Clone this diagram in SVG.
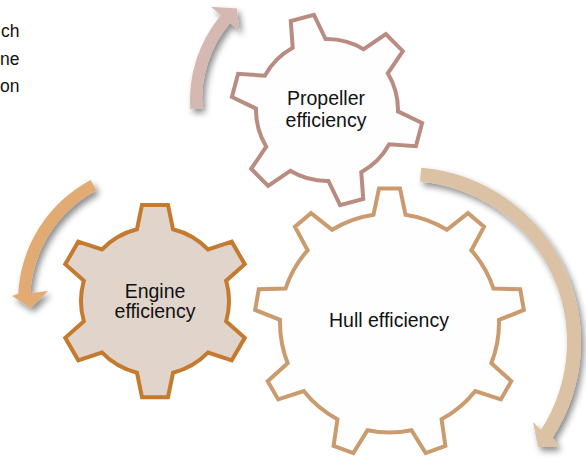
<svg xmlns="http://www.w3.org/2000/svg" width="586" height="463" viewBox="0 0 586 463">
<defs>
<filter id="shadow" x="-30%" y="-30%" width="160%" height="160%">
<feDropShadow dx="3" dy="4" stdDeviation="3" flood-color="#000" flood-opacity="0.45"/>
</filter>
</defs>
<style>
.lbl{font-family:"Liberation Sans",Arial,sans-serif;font-size:19.5px;fill:#111;text-anchor:middle}
.frag{font-family:"Liberation Sans",Arial,sans-serif;font-size:17.5px;fill:#111;text-anchor:end}
.gear{stroke-width:4;stroke-linejoin:miter;stroke-miterlimit:4}
.arrow{filter:url(#shadow);stroke:none}
</style>
<rect width="586" height="463" fill="#ffffff"/>
<g id="intro-text">
<text class="frag" x="19.5" y="37">ch</text>
<text class="frag" x="19.5" y="64.5">ne</text>
<text class="frag" x="19.5" y="92">on</text>
</g>
<g id="connectors">
<path class="arrow" fill="#D4B8B1" d="M190.3,109.2 A132,132 0 0 1 220.9,15.2 L210.9,6.8 L236.8,8.6 L239.3,30.6 L230.1,22.9 A120,120 0 0 0 202.3,108.4 Z"/>
<path class="arrow" fill="#E2AB73" d="M90.7,180 A137,137 0 0 0 18.19,293.83 L12,296 L31,308 L48,291 L30.23,293.37 A125,125 0 0 1 96.3,190.6 Z"/>
<path class="arrow" fill="#DCC2A5" d="M421.3,167.7 A175,175 0 0 1 552.77,437.31 L558,447 L538,447 L533,422 L541.03,429.69 A161,161 0 0 0 420,181.6 Z"/>
</g>
<g id="propeller-gear">
<path class="gear" fill="#FEFEFE" stroke="#B98C82" stroke-width="4.5" d="M292.74,47.81 L290.76,21.1 L313.94,14.89 L325.58,39.01 A71,71 0 0 1 363.72,49.23 L385.87,34.17 L402.84,51.14 L387.77,73.28 A71,71 0 0 1 397.99,111.42 L422.11,123.06 L415.9,146.24 L389.19,144.26 A71,71 0 0 1 361.26,172.19 L363.24,198.9 L340.06,205.11 L328.42,180.99 A71,71 0 0 1 290.28,170.77 L268.14,185.84 L251.17,168.87 L266.23,146.72 A71,71 0 0 1 256.01,108.58 L231.89,96.94 L238.1,73.76 L264.81,75.74 A71,71 0 0 1 292.74,47.81 Z"/>
<text class="lbl" x="326" y="105">Propeller</text>
<text class="lbl" x="326" y="127">efficiency</text>
</g>
<g id="hull-gear">
<path class="gear" fill="#FEFEFE" stroke="#C99B6E" d="M373.5,214.68 L379,188.41 L400,188.41 L405.5,214.68 A109.5,109.5 0 0 1 446.87,229.73 L467.97,213.15 L484.06,226.65 L471.39,250.3 A109.5,109.5 0 0 1 493.4,288.43 L520.22,289.29 L523.87,309.97 L498.96,319.95 A109.5,109.5 0 0 1 491.31,363.31 L511.31,381.2 L500.81,399.39 L475.31,391.02 A109.5,109.5 0 0 1 441.58,419.32 L445.4,445.88 L425.67,453.06 L411.51,430.26 A109.5,109.5 0 0 1 367.49,430.26 L353.33,453.06 L333.6,445.88 L337.42,419.32 A109.5,109.5 0 0 1 303.69,391.02 L278.19,399.39 L267.69,381.2 L287.69,363.31 A109.5,109.5 0 0 1 280.04,319.95 L255.13,309.97 L258.78,289.29 L285.6,288.43 A109.5,109.5 0 0 1 307.61,250.3 L294.94,226.65 L311.03,213.15 L332.13,229.73 A109.5,109.5 0 0 1 373.5,214.68 Z"/>
<text class="lbl" x="389" y="327">Hull efficiency</text>
</g>
<g id="engine-gear">
<path class="gear" fill="#E0D4CB" stroke="#C47A2F" d="M137,229.22 L142,204.88 L168,204.88 L173,229.22 A74,74 0 0 1 208.16,249.52 L231.75,241.68 L244.75,264.2 L226.16,280.7 A74,74 0 0 1 226.16,321.3 L244.75,337.8 L231.75,360.32 L208.16,352.48 A74,74 0 0 1 173,372.78 L168,397.13 L142,397.13 L137,372.78 A74,74 0 0 1 101.84,352.48 L78.25,360.32 L65.25,337.8 L83.84,321.3 A74,74 0 0 1 83.84,280.7 L65.25,264.2 L78.25,241.68 L101.84,249.52 A74,74 0 0 1 137,229.22 Z"/>
<text class="lbl" x="155" y="298">Engine</text>
<text class="lbl" x="155" y="318">efficiency</text>
</g>
</svg>
